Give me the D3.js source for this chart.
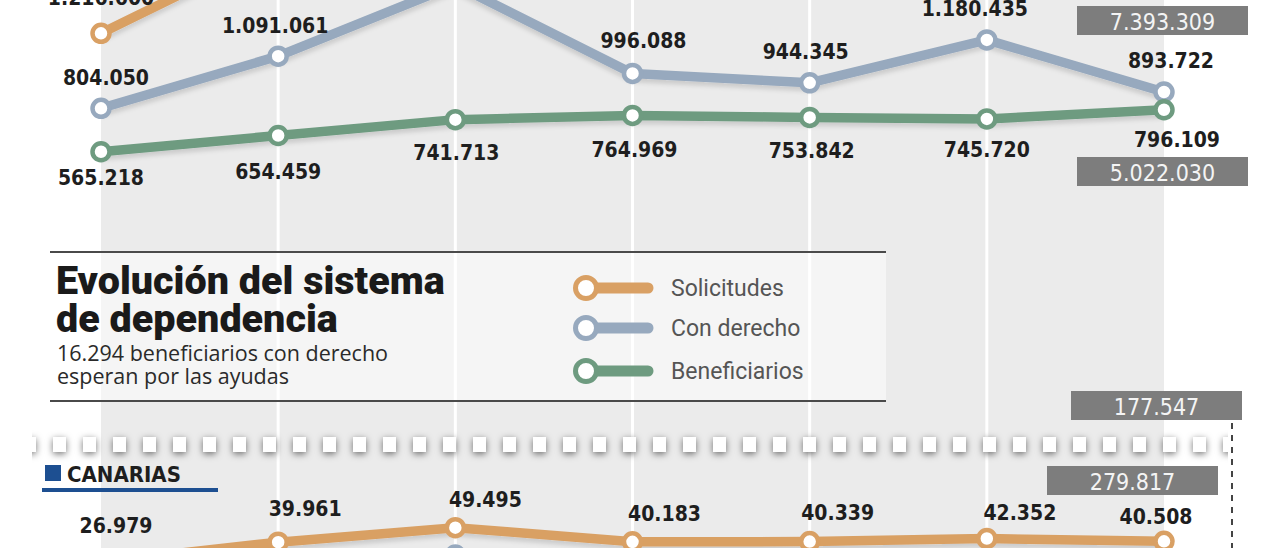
<!DOCTYPE html>
<html><head><meta charset="utf-8">
<script src="https://cdn.jsdelivr.net/npm/d3@7"></script>
<style>html,body{margin:0;padding:0;background:#fff;} svg{display:block;}</style>
</head><body>
<svg id="chart" width="1280" height="548"></svg>
<script>
// ---------- DATA ----------
const periods = ["P1","P2","P3","P4","P5","P6","P7"];
// national series (Solicitudes mostly above the visible crop: estimated)
const solicitudes   = [1216600, 1694500, 2050000, 1760000, 1700000, 1950000, 1650000];
const conDerecho    = [804050, 1091061, 1483608, 996088, 944345, 1180435, 893722];
const beneficiarios = [565218, 654459, 741713, 764969, 753842, 745720, 796109];
// Canarias series (Con derecho mostly below the visible crop: estimated)
const canSolicitudes = [26979, 39961, 49495, 40183, 40339, 42352, 40508];
const canConDerecho  = [17000, 24500, 31500, 25500, 24500, 27500, 27000];
const totals = [7393309, 5022030, 177547, 279817];
const legendLabels = ["Solicitudes", "Con derecho", "Beneficiarios"];
const titleLines = ["Evolución del sistema", "de dependencia"];
const subtitleLines = ["16.294 beneficiarios con derecho", "esperan por las ayudas"];
const regionLabel = "CANARIAS";

// ---------- STYLE / LAYOUT ----------
const colors = {sol: "#d9a064", con: "#97a9be", ben: "#6e9b80"};
const labelFont = "'DejaVu Sans Condensed','DejaVu Sans',sans-serif";
const fmt = d3.formatLocale({decimal: ",", thousands: ".", grouping: [3], currency: ["", "€"]}).format(",d");

const svg = d3.select("#chart");
const W = 1280, H = 548;

const x = d3.scalePoint().domain(periods).range([101, 1164]);
const yNat = d3.scaleLinear().domain([0, 1000000]).range([254.5, 254.5 - 1000000 / 5500]);
const yCan = d3.scaleLinear().domain([0, 40000]).range([603, 603 - 40000 / 657]);

const defs = svg.append("defs");
const sh = defs.append("filter").attr("id", "lineShadow").attr("x", "-10%").attr("y", "-50%").attr("width", "120%").attr("height", "200%");
sh.append("feDropShadow").attr("dx", 0).attr("dy", 4).attr("stdDeviation", 2).attr("flood-color", "#000").attr("flood-opacity", 0.13);
const sq = defs.append("filter").attr("id", "sqShadow").attr("x", "-100%").attr("y", "-100%").attr("width", "300%").attr("height", "300%");
sq.append("feDropShadow").attr("dx", 0).attr("dy", 2).attr("stdDeviation", 3.5).attr("flood-color", "#000").attr("flood-opacity", 0.55);
defs.append("clipPath").attr("id", "sepClip").append("rect").attr("x", 32).attr("y", 420).attr("width", 1196).attr("height", 50);

// background band
svg.append("rect").attr("x", 0).attr("y", 0).attr("width", W).attr("height", H).attr("fill", "#fff");
svg.append("rect").attr("x", x(periods[0])).attr("y", 0)
  .attr("width", x(periods[6]) - x(periods[0])).attr("height", H).attr("fill", "#ebebeb");
// white vertical grid lines
svg.append("g").selectAll("line").data(periods.slice(1, 6)).join("line")
  .attr("x1", d => x(d)).attr("x2", d => x(d)).attr("y1", 0).attr("y2", H)
  .attr("stroke", "#fff").attr("stroke-width", 3);

// ---------- series drawing ----------
function drawSeries(g, values, yScale, color, r = 8.5) {
  const line = d3.line().x((d, i) => x(periods[i])).y(d => yScale(d));
  g.append("path").datum(values).attr("d", line).attr("fill", "none")
    .attr("stroke", color).attr("stroke-width", 9.5).attr("stroke-linejoin", "round")
    .attr("filter", "url(#lineShadow)");
  g.append("g").selectAll("circle").data(values).join("circle")
    .attr("cx", (d, i) => x(periods[i])).attr("cy", d => yScale(d)).attr("r", r)
    .attr("fill", "#fff").attr("stroke", color).attr("stroke-width", 4.5);
}
function drawLabels(g, values, yScale, dx, dy) {
  // only labels that fall inside the cropped picture are drawn
  const items = values.map((v, i) => ({v, i, y: yScale(v) + dy[i]})).filter(d => d.y > -3 && d.y < H + 18);
  g.append("g").selectAll("text").data(items).join("text")
    .attr("x", d => x(periods[d.i]) + dx[d.i]).attr("y", d => d.y)
    .attr("text-anchor", "middle").attr("font-family", labelFont).attr("font-weight", "bold")
    .attr("font-size", 21).attr("fill", "#1e1e1e").text(d => fmt(d.v));
}

const nat = svg.append("g");
drawSeries(nat, solicitudes, yNat, colors.sol);
drawSeries(nat, conDerecho, yNat, colors.con);
drawSeries(nat, beneficiarios, yNat, colors.ben);
drawLabels(nat, solicitudes, yNat, [0, 0, 0, 0, 0, 0, 0], [-28, -23, -23, -23, -23, -23, -23]);
drawLabels(nat, conDerecho, yNat, [5, -3, 0, 11, -4, -12, 7], [-23, -23, -23, -25, -24, -24, -24]);
drawLabels(nat, beneficiarios, yNat, [0, 0, 1, 2, 2, 0, 13], [33, 43, 40, 42, 41, 38, 37]);

// ---------- Canarias ----------
const can = svg.append("g");
drawSeries(can, canConDerecho, yCan, colors.con);
drawSeries(can, canSolicitudes, yCan, colors.sol);
drawLabels(can, canSolicitudes, yCan, [15, 27, 30, 32, 28, 33, -8], [-29, -26, -21, -21, -22, -19, -17]);

// ---------- title box ----------
const tb = svg.append("g");
tb.append("rect").attr("x", 50).attr("y", 252).attr("width", 836).attr("height", 149)
  .attr("fill", "#fff").attr("fill-opacity", 0.5);
tb.selectAll("line.rule").data([252, 401]).join("line").attr("class", "rule")
  .attr("x1", 50).attr("x2", 886).attr("y1", d => d).attr("y2", d => d)
  .attr("stroke", "#4a4a4a").attr("stroke-width", 2);
tb.selectAll("text.title").data(titleLines).join("text").attr("class", "title")
  .attr("x", 56).attr("y", (d, i) => 294 + i * 38)
  .attr("font-family", "Roboto, 'Open Sans', sans-serif").attr("font-weight", 900)
  .attr("font-size", 39.5).attr("fill", "#1a1a1a").text(d => d);
tb.selectAll("text.sub").data(subtitleLines).join("text").attr("class", "sub")
  .attr("x", 57).attr("y", (d, i) => 361 + i * 23)
  .attr("font-family", "'Open Sans', sans-serif").attr("font-size", 21.5).attr("fill", "#2a2a2a").text(d => d);

// legend
const legColors = [colors.sol, colors.con, colors.ben];
const legY = [288, 328, 371];
const leg = tb.append("g");
leg.selectAll("line").data(legendLabels).join("line")
  .attr("x1", 586).attr("x2", 648).attr("y1", (d, i) => legY[i]).attr("y2", (d, i) => legY[i])
  .attr("stroke", (d, i) => legColors[i]).attr("stroke-width", 11).attr("stroke-linecap", "round");
leg.selectAll("circle").data(legendLabels).join("circle")
  .attr("cx", 586).attr("cy", (d, i) => legY[i]).attr("r", 10.5)
  .attr("fill", "#fff").attr("stroke", (d, i) => legColors[i]).attr("stroke-width", 5);
leg.selectAll("text").data(legendLabels).join("text")
  .attr("x", 671).attr("y", (d, i) => legY[i] + 8)
  .attr("font-family", "Roboto, sans-serif").attr("font-size", 23).attr("fill", "#555").text(d => d);

// ---------- total boxes ----------
const boxes = [
  {v: totals[0], x: 1077, y: 6, w: 171},
  {v: totals[1], x: 1077, y: 157, w: 171},
  {v: totals[2], x: 1071, y: 391, w: 171},
  {v: totals[3], x: 1047, y: 466, w: 171}
];
const bx = svg.append("g").selectAll("g").data(boxes).join("g");
bx.append("rect").attr("x", d => d.x).attr("y", d => d.y).attr("width", d => d.w).attr("height", 29).attr("fill", "#7d7d7d");
bx.append("text").attr("x", d => d.x + d.w / 2).attr("y", d => d.y + 23.5).attr("text-anchor", "middle")
  .attr("font-family", labelFont).attr("font-size", 23).attr("fill", "#f4f4f4").text(d => fmt(d.v));

// ---------- separator ----------
const sep = svg.append("g").attr("clip-path", "url(#sepClip)");
sep.selectAll("rect").data(d3.range(41)).join("rect")
  .attr("x", d => 23 + d * 30).attr("y", 437).attr("width", 13).attr("height", 15)
  .attr("fill", "#fff").attr("filter", "url(#sqShadow)");
svg.append("line").attr("x1", 1232).attr("x2", 1232).attr("y1", 423).attr("y2", H)
  .attr("stroke", "#444").attr("stroke-width", 2).attr("stroke-dasharray", "6,6");

// ---------- region label ----------
const rl = svg.append("g");
rl.append("rect").attr("x", 45).attr("y", 465).attr("width", 16).attr("height", 16).attr("fill", "#1d4f91");
rl.append("text").attr("x", 67).attr("y", 482).attr("font-family", labelFont).attr("font-weight", "bold")
  .attr("font-size", 22).attr("fill", "#1e1e1e").text(regionLabel);
rl.append("line").attr("x1", 42).attr("x2", 218).attr("y1", 490).attr("y2", 490)
  .attr("stroke", "#1d4f91").attr("stroke-width", 4);
</script>
</body></html>
